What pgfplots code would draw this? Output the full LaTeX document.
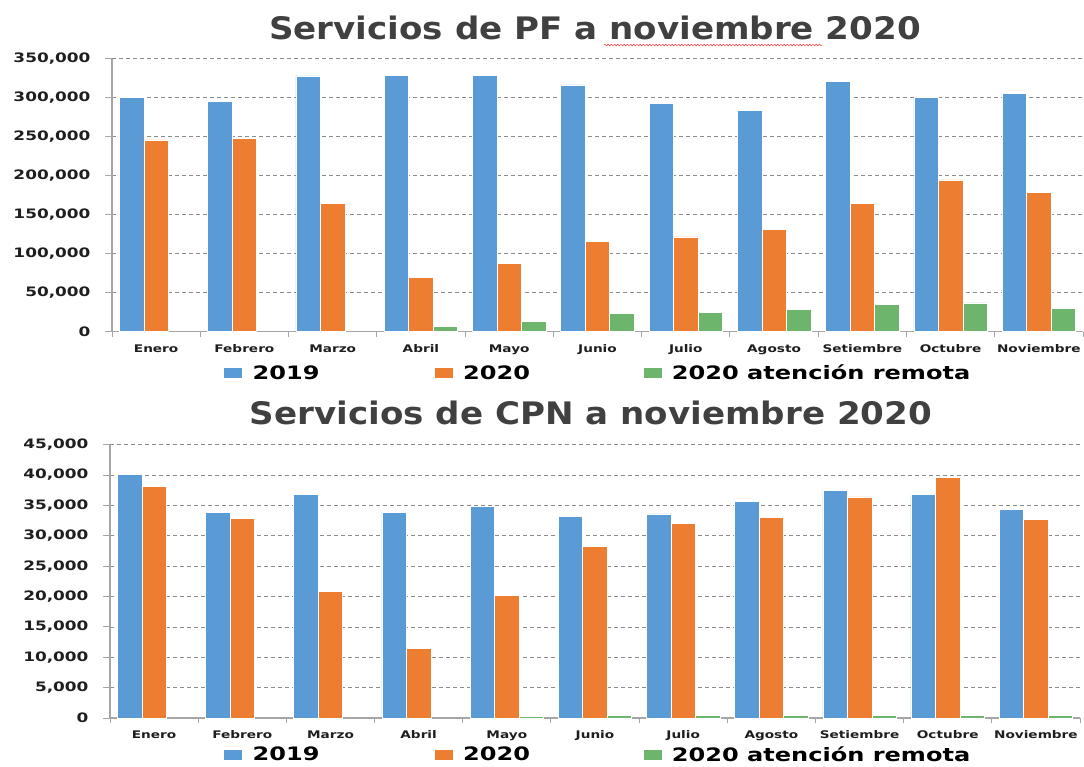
\documentclass[border=0pt]{standalone}
\usepackage{fontspec}
\usepackage{pgfplots}
\pgfplotsset{compat=1.18}
\usetikzlibrary{decorations.pathmorphing}
\setmainfont{DejaVu Sans}
\newfontfamily\chartfont{DejaVu Sans}[FakeStretch=1.3]
\newfontfamily\titlefont{DejaVu Sans}[FakeStretch=1.1]
\definecolor{cblue}{HTML}{5B9BD5}
\definecolor{corange}{HTML}{ED7D31}
\definecolor{cgreen}{HTML}{6DB56D}
\definecolor{ctext}{HTML}{1E1E1E}
\definecolor{ctitle}{HTML}{404040}
\definecolor{cgrid}{HTML}{8C8C8C}
\definecolor{caxis}{HTML}{A6A6A6}

\pgfplotstableread{
x a b
0 300000 246000
1 295000 247500
2 328000 164000
3 329000 70000
4 329000 87500
5 316500 115500
6 293000 121500
7 284000 131500
8 321000 164000
9 300000 194500
10 306000 178500
}\pftable
\pgfplotstableread{
x c
3 7000
4 13000
5 23000
6 24500
7 29000
8 35500
9 37000
10 29500
}\pfremote
\pgfplotstableread{
x a b
0 40100 38100
1 33800 32900
2 36800 20800
3 33800 11400
4 34900 20200
5 33200 28300
6 33600 32100
7 35600 33000
8 37500 36400
9 36800 39600
10 34300 32700
}\cpntable
\pgfplotstableread{
x c
4 250
5 400
6 400
7 400
8 400
9 400
10 400
}\cpnremote

\pgfplotsset{
  mychart/.style={
    scale only axis, anchor=south west,
    ymin=0, xmin=-0.5, xmax=10.5,
    axis x line*=bottom, axis y line*=left,
    axis line style={caxis, line width=1.3pt, -},
    xtick={0,...,10},
    xticklabels={Enero,Febrero,Marzo,Abril,Mayo,Junio,Julio,Agosto,Setiembre,Octubre,Noviembre},
    minor xtick={-0.5,0.5,...,10.5},
    major x tick style={draw=none},
    minor x tick style={caxis, line width=1pt},
    major y tick style={caxis, line width=1pt},
    tick align=outside,
    major tick length=7pt, minor tick length=5pt,
    ymajorgrids,
    major grid style={cgrid, line width=0.8pt, dash pattern=on 4pt off 3pt},
    scaled y ticks=false,
    /pgf/number format/fixed,
    /pgf/number format/1000 sep={,},
    /pgf/number format/assume math mode=true,
    yticklabel style={font=\chartfont\bfseries\fontsize{13}{15}\selectfont, text=ctext, xshift=-11pt},
    xticklabel style={font=\chartfont\bfseries\fontsize{10.5}{12}\selectfont, text=ctext, yshift=-2pt,
      text height=8pt, text depth=2pt},
    legend columns=3,
    legend style={draw=none, fill=none, inner sep=0pt, outer sep=0pt, column sep=0pt,
      font=\chartfont\bfseries\fontsize{18.5}{20}\selectfont, text=black, anchor=west,
      nodes={inner sep=0pt}},
    ybar, bar width=24.5pt,
    every axis plot post/.append style={
      /pgfplots/legend image code/.code={\fill (0pt,-5.5pt) rectangle (19pt,5.5pt);}},
  },
  bs/.style={draw=white, line width=0.6pt,
    /pgfplots/legend image code/.code={\fill (0pt,-5.5pt) rectangle (19pt,5.5pt);}},
}

\begin{document}
\begin{tikzpicture}[x=1pt,y=1pt]
\useasboundingbox (0,0) rectangle (1084,766);

\node[anchor=base, font=\titlefont\bfseries\fontsize{31}{34}\selectfont, text=ctitle] at (595,726) {Servicios de PF a noviembre 2020};
\draw[red!70, line width=0.6pt, decorate, decoration={snake, amplitude=0.8pt, segment length=3.2pt}] (604,721) -- (822,721);

\begin{axis}[mychart, at={(112pt,434.3pt)}, width=971pt, height=273pt,
  ymax=350000, ytick={0,50000,...,350000},
  legend style={at={(axis description cs:0.1143,-0.151)}}]
\addplot[fill=cblue, bs, bar shift=-24.5pt] table[x=x,y=a] {\pftable};
\addlegendentry{\makebox[191pt][l]{\hspace{10pt}2019}}
\addplot[fill=corange, bs, bar shift=0pt] table[x=x,y=b] {\pftable};
\addlegendentry{\makebox[190pt][l]{\hspace{10pt}2020}}
\addplot[fill=cgreen, bs, bar shift=24.5pt] table[x=x,y=c] {\pfremote};
\addlegendentry{\hspace{9pt}2020 atención remota}
\end{axis}

\node[anchor=base, font=\titlefont\bfseries\fontsize{31}{34}\selectfont, text=ctitle] at (591,341) {Servicios de CPN a noviembre 2020};

\begin{axis}[mychart, at={(110pt,48pt)}, width=970pt, height=273.3pt,
  ymax=45000, ytick={0,5000,...,45000},
  legend style={at={(axis description cs:0.1165,-0.134)}}]
\addplot[fill=cblue, bs, bar shift=-24.5pt] table[x=x,y=a] {\cpntable};
\addlegendentry{\makebox[191pt][l]{\hspace{10pt}2019}}
\addplot[fill=corange, bs, bar shift=0pt] table[x=x,y=b] {\cpntable};
\addlegendentry{\makebox[190pt][l]{\hspace{10pt}2020}}
\addplot[fill=cgreen, bs, bar shift=24.5pt] table[x=x,y=c] {\cpnremote};
\addlegendentry{\hspace{9pt}2020 atención remota}
\end{axis}
\end{tikzpicture}
\end{document}
